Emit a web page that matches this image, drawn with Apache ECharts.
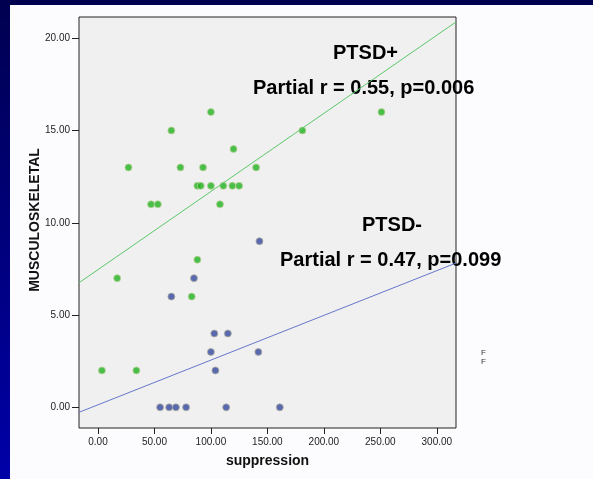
<!DOCTYPE html>
<html>
<head>
<meta charset="utf-8">
<script src="https://cdn.jsdelivr.net/npm/echarts@6/dist/echarts.min.js"></script>
<style>
html, body { margin: 0; padding: 0; background: #fcfcfe; }
#main { width: 593px; height: 479px; }
</style>
</head>
<body>
<div id="main"></div>
<script>
// PTSD+ group (green)
var posX = [100, 65, 120, 27, 73, 93, 140, 88, 91, 100, 111, 119, 125, 47, 53, 108, 251, 181, 88, 17, 83, 3.5, 34];
var posY = [16, 15, 14, 13, 13, 13, 13, 12, 12, 12, 12, 12, 12, 11, 11, 11, 16, 15, 8, 7, 6, 2, 2];
// PTSD- group (blue)
var negX = [143, 85, 65, 103, 115, 100, 142, 104, 55, 63, 69, 78, 113.5, 161];
var negY = [9, 7, 6, 4, 4, 3, 3, 2, 0, 0, 0, 0, 0, 0];
// fit lines: [intercept, slope]
var posFit = [7.46, 0.04234];
var negFit = [0.137, 0.02423];
var xTicks = [0, 50, 100, 150, 200, 250, 300];
var yTicks = [0, 5, 10, 15, 20];
var xMin = -16.8, xMax = 317;
var yMin = -1.12, yMax = 21.15;

function pairs(xs, ys) {
	return xs.map(function(x, i) { return [x, ys[i]]; });
}
function fitLine(f) {
	return [[xMin, f[0] + f[1] * xMin], [xMax, f[0] + f[1] * xMax]];
}

var myChart = echarts.init(document.getElementById('main'));
var fmt = function(v) { return v.toFixed(2); };
option = {
	backgroundColor: '#fcfcfe',
	animation: false,
	grid: {
		left: 79, right: 137, top: 17, bottom: 51,
		show: true,
		backgroundColor: '#f0f0f0',
		borderColor: '#222',
		borderWidth: 1
	},
	xAxis: {
		type: 'value',
		min: xMin, max: xMax,
		name: 'suppression',
		nameLocation: 'middle',
		nameGap: 26,
		nameTextStyle: { fontFamily: 'Liberation Sans', fontWeight: 'bold', fontSize: 14, color: '#111' },
		splitLine: { show: false },
		axisLine: { show: false, onZero: false },
		axisTick: { show: true, length: 6, customValues: xTicks, lineStyle: { color: '#222' } },
		axisLabel: { customValues: xTicks, formatter: fmt, margin: 9, fontFamily: 'Liberation Sans', fontSize: 10, color: '#222' }
	},
	yAxis: {
		type: 'value',
		min: yMin, max: yMax,
		splitLine: { show: false },
		axisLine: { show: false, onZero: false },
		axisTick: { show: true, length: 7, customValues: yTicks, lineStyle: { color: '#222' } },
		axisLabel: { customValues: yTicks, formatter: fmt, margin: 9, fontFamily: 'Liberation Sans', fontSize: 10, color: '#222' }
	},
	series: [{
		name: 'PTSD- fit',
		type: 'line',
		data: fitLine(negFit),
		symbol: 'none',
		lineStyle: { color: '#6677cc', width: 1 }
	}, {
		name: 'PTSD+ fit',
		type: 'line',
		data: fitLine(posFit),
		symbol: 'none',
		lineStyle: { color: '#5cc86a', width: 1 }
	}, {
		name: 'PTSD-',
		type: 'scatter',
		data: pairs(negX, negY),
		symbolSize: 7,
		itemStyle: { color: '#33479f', borderColor: '#b0b0a0', borderWidth: 1 }
	}, {
		name: 'PTSD+',
		type: 'scatter',
		data: pairs(posX, posY),
		symbolSize: 7,
		itemStyle: { color: '#1fb21f', borderColor: '#bcd29a', borderWidth: 1 }
	}],
	graphic: [
		{ type: 'rect', left: 0, top: 0, shape: { width: 10, height: 479 },
			style: { fill: new echarts.graphic.LinearGradient(0, 0, 0, 1, [{ offset: 0, color: '#000050' }, { offset: 1, color: '#0000a8' }]) } },
		{ type: 'rect', left: 0, top: 0, shape: { width: 593, height: 5 }, style: { fill: '#000050' } },
		{ type: 'text', x: 35, y: 220, rotation: Math.PI / 2,
			style: { text: 'MUSCULOSKELETAL', font: 'bold 14px "Liberation Sans"', fill: '#111', align: 'center', verticalAlign: 'middle' } },
		{ type: 'text', x: 333, y: 53, style: { text: 'PTSD+', font: 'bold 20px "Liberation Sans"', fill: '#000', verticalAlign: 'middle' } },
		{ type: 'text', x: 253, y: 88, style: { text: 'Partial r = 0.55, p=0.006', font: 'bold 20px "Liberation Sans"', fill: '#000', verticalAlign: 'middle' } },
		{ type: 'text', x: 362, y: 225, style: { text: 'PTSD-', font: 'bold 20px "Liberation Sans"', fill: '#000', verticalAlign: 'middle' } },
		{ type: 'text', x: 280, y: 260, style: { text: 'Partial r = 0.47, p=0.099', font: 'bold 20px "Liberation Sans"', fill: '#000', verticalAlign: 'middle' } },
		{ type: 'text', x: 481, y: 353, style: { text: 'F', font: '8px "Liberation Sans"', fill: '#333', verticalAlign: 'middle' } },
		{ type: 'text', x: 481, y: 362, style: { text: 'F', font: '8px "Liberation Sans"', fill: '#333', verticalAlign: 'middle' } }
	]
};
myChart.setOption(option);
</script>
</body>
</html>
